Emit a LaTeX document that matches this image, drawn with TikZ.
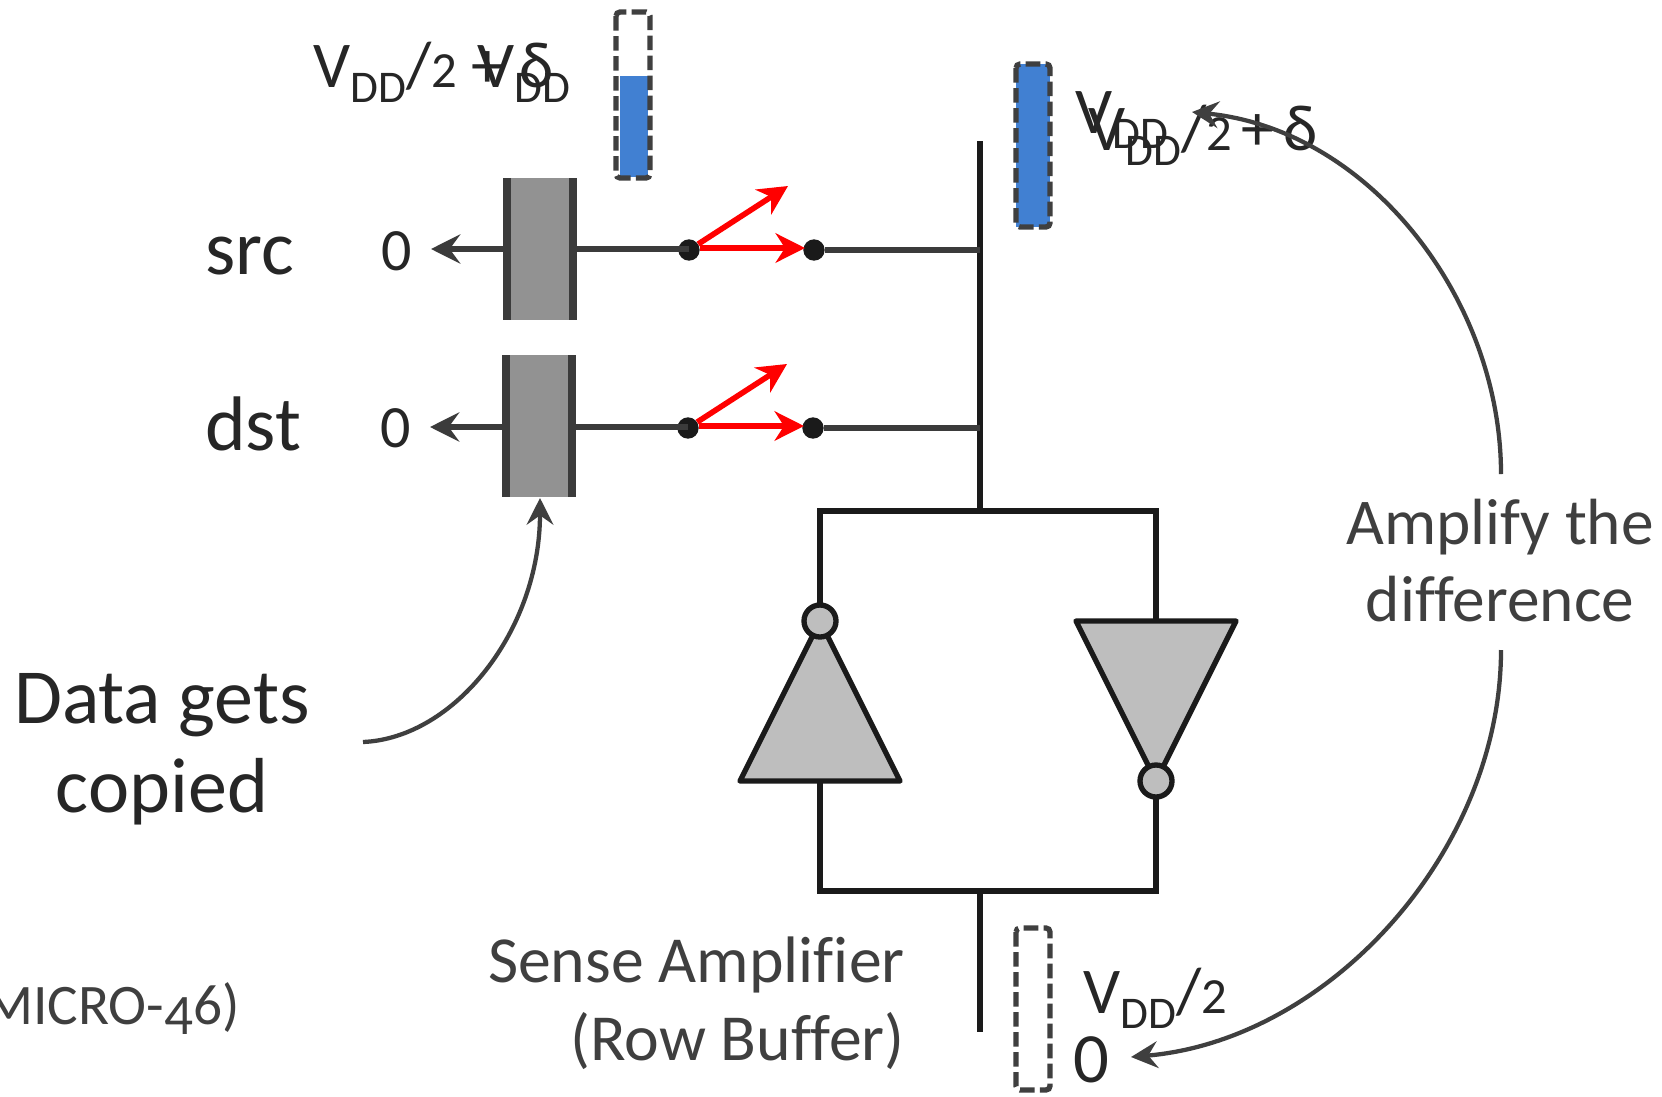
\documentclass[tikz,border=0pt]{standalone}
\usepackage{fontspec}
\setmainfont{Carlito}[RawFeature={-liga}]
\usetikzlibrary{arrows.meta}
\definecolor{ink}{HTML}{262626}
\definecolor{wire}{HTML}{3B3B3B}
\definecolor{inv}{HTML}{1A1A1A}
\definecolor{cellgray}{HTML}{929292}
\definecolor{invgray}{HTML}{BEBEBE}
\definecolor{blue1}{HTML}{4180D2}
\definecolor{soft}{HTML}{3F3F3F}
\tikzset{
  x=0.75pt,y=-0.75pt,
  wireline/.style={draw=wire,line width=4.4pt},
  leftarrow/.style={draw=wire,line width=4.2pt,-{Stealth[length=22pt,width=22pt,inset=8pt]}},
  redarrow/.style={draw=red,line width=4.2pt,-{Stealth[length=22pt,width=22pt,inset=7pt]}},
  curvearrow/.style={draw=soft,line width=3.2pt,-{Stealth[length=20pt,width=20pt,inset=7pt]}},
  black line/.style={draw=inv,line width=4pt},
  dotnode/.style={circle,fill=inv,inner sep=0pt,minimum size=16pt},
  bubble/.style={circle,draw=inv,fill=invgray,line width=4pt,inner sep=0pt,minimum size=24pt},
  dashcell/.style={draw=soft,line width=4pt,dash pattern=on 11pt off 4pt,rounded corners=3pt},
  lab/.style={inner sep=0pt,text=ink,anchor=base west},
  softlab/.style={inner sep=0pt,text=soft,align=center},
}
\newcommand{\vdd}{V\raisebox{-11.5pt}{\fontsize{34}{34}\selectfont DD}}
\newcommand{\two}{{\fontsize{38}{38}\selectfont 2}}
\begin{document}
\begin{tikzpicture}
\path[use as bounding box] (0,0) rectangle (1662,1096);
\clip (0,0) rectangle (1662,1096);
\fill[white] (0,0) rectangle (1662,1096);
% sense amp
\draw[black line] (980,141) -- (980,511);
\draw[black line,line join=miter] (820,621) -- (820,511) -- (1156,511) -- (1156,621);
\draw[black line] (820,781) -- (820,891) -- (1156,891) -- (1156,781);
\draw[black line] (980,891) -- (980,1032);
\draw[black line,fill=invgray,line join=round] (740,781) -- (900,781) -- (820,621) -- cycle;
\draw[black line,fill=invgray,line join=round] (1076,621) -- (1236,621) -- (1156,781) -- cycle;
\node[bubble] (b1) at (820,621) {};
\node[bubble] (b2) at (1156,781) {};
% cells
\foreach \n/\xa/\ya/\w in {src/503/178/249,dst/502/355/427}{
  \fill[cellgray] (\xa,\ya) rectangle +(74,142);
  \fill[wire] (\xa,\ya) rectangle +(8,142);
  \fill[wire] (\xa+66,\ya) rectangle +(8,142);
}
\coordinate (s0) at (503,249);
\coordinate (s1) at (431,249);
\coordinate (s2) at (577,249);
\node[dotnode] (sa) at (689,250) {};
\node[dotnode] (sb) at (814,250) {};
\coordinate (sc) at (980,250);
\coordinate (su) at (788,186);
\coordinate (sv) at (805,248);
\coordinate (d0) at (502,427);
\coordinate (d1) at (430,427);
\coordinate (d2) at (576,427);
\node[dotnode] (da) at (688,428) {};
\node[dotnode] (db) at (813,428) {};
\coordinate (dc) at (980,428);
\coordinate (du) at (787,364);
\coordinate (dv) at (804,426);
\draw[leftarrow] (s0) -- (s1);
\draw[leftarrow] (d0) -- (d1);
\draw[wireline] (s2) -- (s2 -| sa);
\draw[wireline] (d2) -- (d2 -| da);
\draw[wireline] (sb) -- (sc);
\draw[wireline] (db) -- (dc);
\draw[redarrow] (sa) -- (su);
\draw[redarrow] (sa.east |- sv) -- (sv);
\draw[redarrow] (da) -- (du);
\draw[redarrow] (da.east |- dv) -- (dv);
% storage cells
\fill[blue1] (620,76) rectangle (648,177);
\draw[dashcell] (616,12) rectangle (650,178);
\fill[blue1] (1016,64) rectangle (1050,227);
\draw[dashcell] (1016,64) rectangle (1050,227);
\draw[dashcell] (1016,928) rectangle (1050,1090);
% labels
\fontsize{49}{55}\selectfont
\node[lab] (t1) at (313,87) {\vdd/\two{} + δ};
\node[lab] (t2) at (477,87) {\vdd};
\node[lab] (t3) at (1075,133) {\vdd};
\node[lab] (t4) at (1088,150) {\vdd/\two\hspace{7pt}+\hspace{7pt}δ};
\node[lab] (t5) at (1083,1013) {\vdd/\two};
\node[lab] (t6) at (1073,1082) {\fontsize{53}{53}\selectfont 0};
\node[lab] (src) at (205,274) {\fontsize{58}{58}\selectfont src};
\node[lab] (dst) at (205,450) {\fontsize{58}{58}\selectfont dst};
\node[lab] (z1) at (381,270) {\fontsize{45}{45}\selectfont 0};
\node[lab] (z2) at (380,447) {\fontsize{45}{45}\selectfont 0};
\node[softlab,anchor=base] (amp) at (1500,544) {\fontsize{49}{60}\selectfont Amplify the};
\node[softlab,anchor=base] (diff) at (1500,621) {\fontsize{49}{60}\selectfont difference};
\node[lab,anchor=base] (data) at (162,723) {\fontsize{58.5}{62}\selectfont Data gets};
\node[lab,anchor=base] (cop) at (162,812) {\fontsize{58.5}{62}\selectfont copied};
\node[softlab,anchor=base east] (sense) at (905,982) {\fontsize{49.3}{60}\selectfont Sense Amplifier};
\node[softlab,anchor=base east] (row) at (905,1060) {\fontsize{49.3}{60}\selectfont (Row Buffer)};
\node[softlab,anchor=base east] (micro) at (240,1024) {\fontsize{43}{50}\selectfont (MICRO-\raisebox{-8pt}{4}6)};
% curves
\coordinate (c1) at (1501,474);
\coordinate (c2) at (1192,112);
\coordinate (c3) at (1501,650);
\coordinate (c4) at (1131,1057);
\coordinate (c5) at (363,742);
\coordinate (c6) at (540,498);
\draw[curvearrow] (c1) .. controls (1501,300) and (1370,130) .. (c2);
\draw[curvearrow] (c3) .. controls (1501,850) and (1330,1040) .. (c4);
\draw[curvearrow] (c5) .. controls (455,738) and (540,630) .. (c6);
\end{tikzpicture}
\end{document}
